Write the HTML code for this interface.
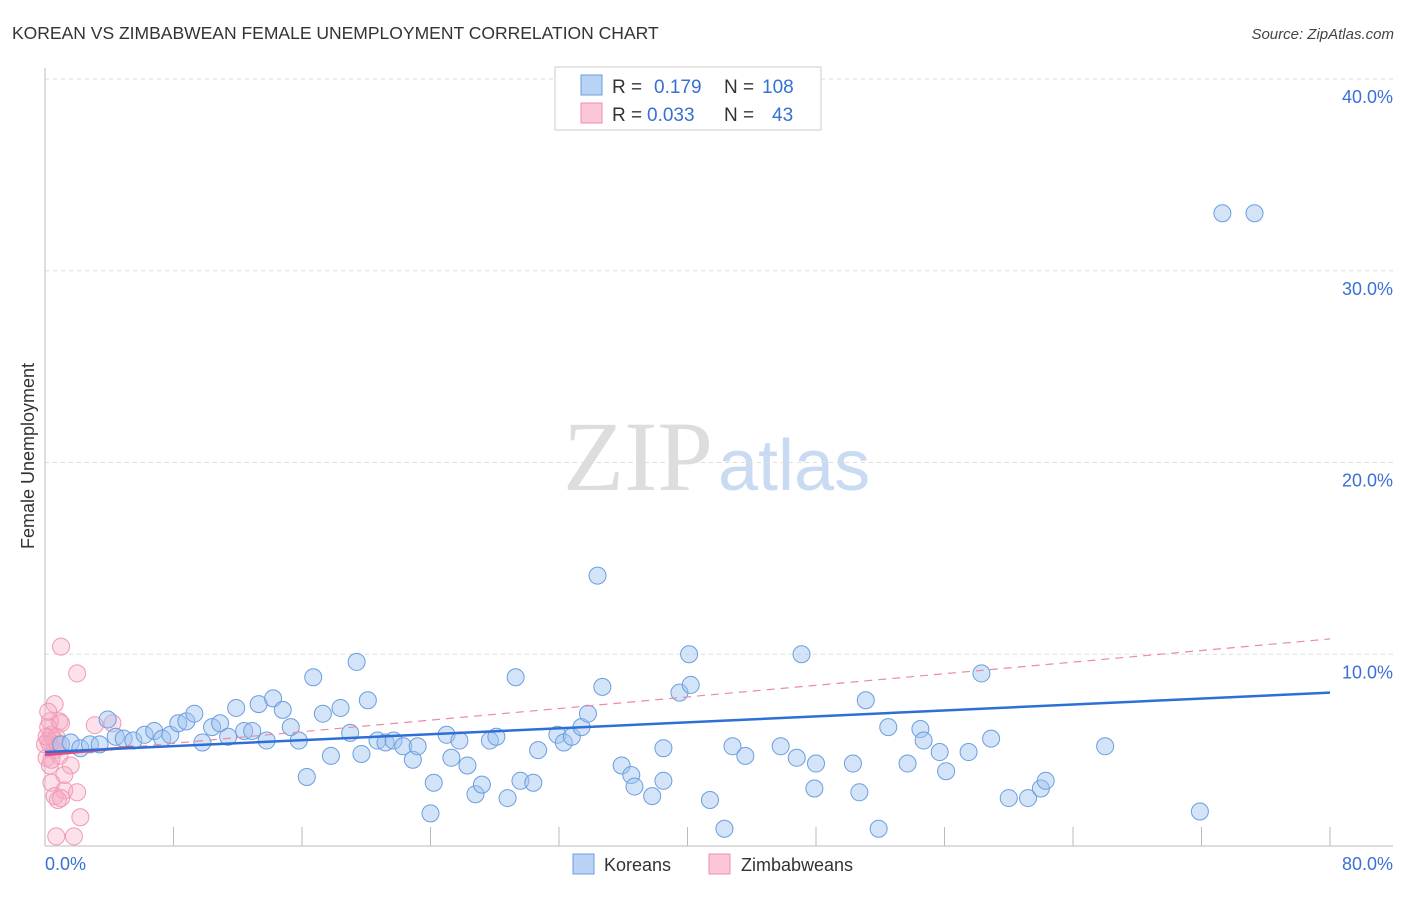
<!DOCTYPE html>
<html><head><meta charset="utf-8"><style>
body{margin:0;background:#fff;font-family:"Liberation Sans",sans-serif}
svg text{font-family:"Liberation Sans",sans-serif}
</style></head><body>
<svg id="chart" width="1406" height="892" viewBox="0 0 1406 892" xmlns="http://www.w3.org/2000/svg">
<text x="12" y="39" font-size="17.5" fill="#333">KOREAN VS ZIMBABWEAN FEMALE UNEMPLOYMENT CORRELATION CHART</text>
<text x="1394" y="39" font-size="15" fill="#444" text-anchor="end" font-style="italic">Source: ZipAtlas.com</text>
<text x="713" y="490" font-size="100" fill="#ddd" text-anchor="end" style="font-family:'Liberation Serif',serif">ZIP</text>
<text x="718" y="490" font-size="72" fill="#c9daf3">atlas</text>
<g id="grid"></g>
<g id="axes"></g>
<g id="pts"></g>
<g id="lines"></g>
<text transform="translate(34,456) rotate(-90)" font-size="18" fill="#333" text-anchor="middle">Female Unemployment</text>
<g>
<rect x="555" y="67" width="266" height="63" fill="#fff" stroke="#ccc"/>
<rect x="581" y="75" width="21" height="20" fill="#b9d3f5" stroke="#6a9ee0"/>
<rect x="581" y="103" width="21" height="20" fill="#fbc7d6" stroke="#ef8eab"/>
<text x="612" y="93" font-size="19" fill="#333">R =</text><text x="654" y="93" font-size="19" fill="#3470d6">0.179</text>
<text x="724" y="93" font-size="19" fill="#333">N =</text><text x="762" y="93" font-size="19" fill="#3470d6">108</text>
<text x="612" y="121" font-size="19" fill="#333">R =</text><text x="647" y="121" font-size="19" fill="#3470d6">0.033</text>
<text x="724" y="121" font-size="19" fill="#333">N =</text><text x="772" y="121" font-size="19" fill="#3470d6">43</text>
</g>
<g>
<rect x="573" y="854" width="21" height="20" fill="#b9d3f5" stroke="#6a9ee0"/>
<text x="604" y="871" font-size="18" fill="#333">Koreans</text>
<rect x="709" y="854" width="21" height="20" fill="#fbc7d6" stroke="#ef8eab"/>
<text x="741" y="871" font-size="18" fill="#333">Zimbabweans</text>
</g>
</svg>
<script>
const NS="http://www.w3.org/2000/svg";
const yTicks=[10,20,30,40];
const yTickLabels=["10.0%","20.0%","30.0%","40.0%"];
const xTickLabels=["0.0%","80.0%"];
const koreanX=[73.3,75.3,34.4,40.1,47.1,1.0,1.6,2.2,2.8,3.4,3.9,4.4,4.9,5.5,6.2,6.8,7.3,7.8,8.3,8.8,9.3,9.8,10.4,10.9,11.4,11.9,12.4,12.9,13.3,13.8,14.2,14.8,15.3,15.8,16.3,16.7,17.3,17.8,18.4,19.0,19.4,19.7,20.1,20.7,21.2,21.7,22.3,22.9,23.2,24.2,24.0,25.0,25.3,25.8,26.3,26.8,27.2,27.7,28.1,28.8,29.3,29.6,30.4,30.7,31.9,32.3,32.8,33.4,33.8,34.7,35.9,36.5,36.7,37.8,38.5,38.5,39.5,40.2,41.4,42.3,42.8,43.6,45.8,46.8,47.9,48.0,50.3,50.7,51.1,51.9,52.5,53.7,54.5,54.7,55.7,56.1,57.5,58.3,58.9,60.0,61.2,62.0,62.3,66.0,71.9];
const koreanY=[33.0,33.0,14.1,10.0,10.0,5.3,5.4,5.1,5.3,5.3,6.6,5.7,5.6,5.5,5.8,6.0,5.6,5.8,6.4,6.5,6.9,5.4,6.2,6.4,5.7,7.2,6.0,6.0,7.4,5.5,7.7,7.1,6.2,5.5,3.6,8.8,6.9,4.7,7.2,5.9,9.6,4.8,7.6,5.5,5.4,5.5,5.2,4.5,5.2,3.3,1.7,5.8,4.6,5.5,4.2,2.7,3.2,5.5,5.7,2.5,8.8,3.4,3.3,5.0,5.8,5.4,5.7,6.2,6.9,8.3,4.2,3.7,3.1,2.6,5.1,3.4,8.0,8.4,2.4,0.9,5.2,4.7,5.2,4.6,3.0,4.3,4.3,2.8,7.6,0.9,6.2,4.3,6.1,5.5,4.9,3.9,4.9,9.0,5.6,2.5,2.5,3.0,3.4,5.2,1.8];
const zimX=[1.0,2.0,0.6,0.9,1.0,3.1,4.2,0.2,0.4,0.7,0.2,0.3,0.6,0.9,0.1,0.3,1.6,1.2,0.4,1.2,2.0,0.6,0.8,1.0,2.2,0.7,1.8,0.3,0.2,0.8,0.0,0.4,0.6,0.1];
const zimY=[10.4,9.0,7.4,6.5,6.4,6.3,6.4,6.2,5.8,5.7,5.5,5.3,5.0,4.7,4.6,4.2,4.2,3.7,3.3,2.9,2.8,2.6,2.4,2.5,1.5,0.5,0.5,6.5,7.0,5.3,5.3,4.5,5.5,5.7];
const koreanTrend=[4.9,8.0];
const zimTrend=[4.75,10.8];
const X0=45,X1=1330,Y0=846,YP=19.175;
const xs=v=>X0+(v/80)*(X1-X0);
const ys=v=>Y0-v*YP;
function mk(tag,attrs,parent){const e=document.createElementNS(NS,tag);for(const k in attrs)e.setAttribute(k,attrs[k]);parent.appendChild(e);return e;}
const grid=document.getElementById('grid'),axes=document.getElementById('axes'),pts=document.getElementById('pts'),lines=document.getElementById('lines');
yTicks.forEach((t,i)=>{
 const l=mk('line',{x1:45,x2:1393,y1:ys(t),y2:ys(t),stroke:'#ddd','stroke-dasharray':'4,4'},grid);
 
 
 const tx=mk('text',{x:1393,y:ys(t)+24,'font-size':18,fill:'#3b70d6','text-anchor':'end'},grid);
 tx.textContent=yTickLabels[i];
 
 
});
const ax=mk('line',{x1:45,x2:45,y1:68,y2:846,stroke:'#bbb'},axes);


const bx=mk('line',{x1:45,x2:1393,y1:846,y2:846,stroke:'#bbb'},axes);


for(let i=1;i<=10;i++){
 const t=mk('line',{x1:xs(i*8),x2:xs(i*8),y1:827,y2:846,stroke:'#bbb'},axes);
 
 
}
[[0,'start',45],[80,'end',1393]].forEach((a,i)=>{
 const t=mk('text',{x:a[2],y:870,'font-size':18,fill:'#3b70d6','text-anchor':a[1]},axes);
 t.textContent=xTickLabels[i];
 
 
});
zimX.forEach((v,i)=>{
 const c=mk('circle',{cx:xs(v),cy:ys(zimY[i]),r:8.5,fill:'rgba(246,170,195,0.35)',stroke:'#f09ab5','stroke-width':1},pts);
 
 
});
koreanX.forEach((v,i)=>{
 const c=mk('circle',{cx:xs(v),cy:ys(koreanY[i]),r:8.5,fill:'rgba(160,196,240,0.45)',stroke:'#6a9ee0','stroke-width':1},pts);
 
 
});
const zy=x=>zimTrend[0]+(zimTrend[1]-zimTrend[0])*x/80;
const zd=mk('line',{x1:xs(5),y1:ys(zy(5)),x2:xs(80),y2:ys(zy(80)),stroke:'#e98aa8','stroke-dasharray':'8,6','stroke-width':1.2},lines);


const zs=mk('line',{x1:xs(0),y1:ys(zy(0)),x2:xs(5.5),y2:ys(zy(5.5)),stroke:'#e44d7e','stroke-width':3},lines);


const kt=mk('line',{x1:xs(0),y1:ys(koreanTrend[0]),x2:xs(80),y2:ys(koreanTrend[1]),stroke:'#2e6fd6','stroke-width':2.5},lines);


</script>
</body></html>
